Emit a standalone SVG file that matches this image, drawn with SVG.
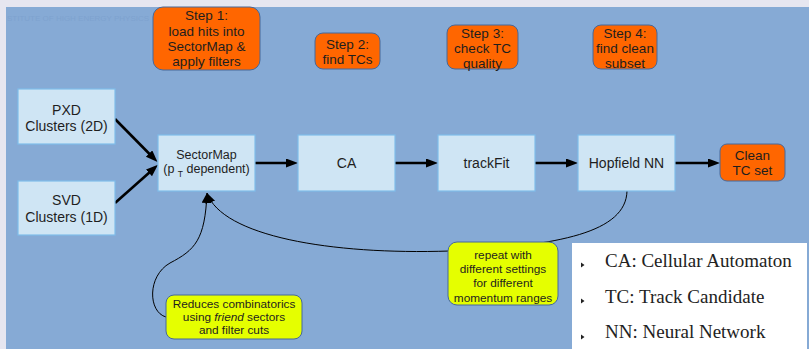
<svg xmlns="http://www.w3.org/2000/svg" width="809" height="349" viewBox="0 0 809 349">
<defs>
<style>
.bg{fill:#86aad5}
.node rect{fill:#cfe5f4;stroke:#7fbdea;stroke-width:1.2}
.step rect{fill:#ff6600;stroke:#46689a;stroke-width:1}
.note rect{fill:#e5ff00;stroke:#46689a;stroke-width:1}
text{font-family:"Liberation Sans",Arial,sans-serif;fill:#1e1e1e;text-anchor:middle}
.t14{font-size:14px}
.t135{font-size:13.5px}
.t12{font-size:12.5px}
.t11{font-size:11.8px}
.legend text{font-family:"Liberation Serif","Times New Roman",serif;font-size:19px;text-anchor:start;fill:#222}
.thick{stroke:#000;stroke-width:2.6;fill:none}
.thin{stroke:#000;stroke-width:1;fill:none}
</style>
<marker id="ah" markerUnits="userSpaceOnUse" markerWidth="13" markerHeight="10" refX="2" refY="4.5" orient="auto">
<path d="M0,0 L12,4.5 L0,9 z" fill="#000"/>
</marker>
<marker id="ahs" markerUnits="userSpaceOnUse" markerWidth="11" markerHeight="11" refX="10" refY="5" orient="auto">
<path d="M0,0 L10,5 L0,10 z" fill="#000"/>
</marker>
</defs>
<rect x="0" y="0" width="809" height="349" fill="#e6e6f0"/>
<rect class="bg" x="6" y="7" width="803" height="342"/>
<text x="7" y="21" style="font-size:8px;text-anchor:start;fill:#7ea2cf">STITUTE OF HIGH ENERGY PHYSICS</text>

<g id="connectors">
<line class="thick" x1="115" y1="119" x2="150.5" y2="155" marker-end="url(#ah)"/>
<line class="thick" x1="115" y1="203" x2="150.5" y2="171.5" marker-end="url(#ah)"/>
<line class="thick" x1="255" y1="163" x2="288" y2="163" marker-end="url(#ah)"/>
<line class="thick" x1="395" y1="163" x2="428" y2="163" marker-end="url(#ah)"/>
<line class="thick" x1="535" y1="163" x2="568" y2="163" marker-end="url(#ah)"/>
<line class="thick" x1="675" y1="163" x2="710" y2="163" marker-end="url(#ah)"/>
<path class="thin" d="M627,191 C626,232 560,246 450,251 C330,255 222,236 207,193" marker-end="url(#ahs)"/>
<path class="thin" d="M166,317 C148,312 147,276 170,263 C195,250 205,240 207,193" marker-end="url(#ahs)"/>
</g>

<g id="step1" class="step">
<rect x="153" y="7" width="107" height="63" rx="10"/>
<text class="t135" x="206.5" y="20">Step 1:</text>
<text class="t135" x="206.5" y="35.5">load hits into</text>
<text class="t135" x="206.5" y="51">SectorMap &amp;</text>
<text class="t135" x="206.5" y="66">apply filters</text>
</g>
<g id="step2" class="step">
<rect x="315" y="33" width="65" height="36" rx="8"/>
<text class="t135" x="347.5" y="49">Step 2:</text>
<text class="t135" x="347.5" y="64">find TCs</text>
</g>
<g id="step3" class="step">
<rect x="447" y="25" width="71" height="44" rx="8"/>
<text class="t135" x="482.5" y="38">Step 3:</text>
<text class="t135" x="482.5" y="52.5">check TC</text>
<text class="t135" x="482.5" y="67.5">quality</text>
</g>
<g id="step4" class="step">
<rect x="593" y="25" width="64" height="44" rx="8"/>
<text class="t135" x="625" y="38">Step 4:</text>
<text class="t135" x="625" y="52.5">find clean</text>
<text class="t135" x="625" y="67.5">subset</text>
</g>

<g id="pxd" class="node">
<rect x="18" y="89" width="97" height="55"/>
<text class="t14" x="66.5" y="115">PXD</text>
<text class="t14" x="66.5" y="131">Clusters (2D)</text>
</g>
<g id="svd" class="node">
<rect x="18" y="181" width="97" height="54"/>
<text class="t14" x="66.5" y="205">SVD</text>
<text class="t14" x="66.5" y="222">Clusters (1D)</text>
</g>
<g id="sectormap" class="node">
<rect x="158" y="135" width="97" height="56"/>
<text class="t12" x="206.5" y="158.5">SectorMap</text>
<text class="t12" x="206.5" y="172.5">(p <tspan font-size="8.5" dy="4">T</tspan><tspan dy="-4"> dependent)</tspan></text>
</g>
<g id="ca" class="node">
<rect x="298" y="135" width="97" height="56"/>
<text class="t14" x="346.5" y="168">CA</text>
</g>
<g id="trackfit" class="node">
<rect x="438" y="135" width="97" height="56"/>
<text class="t14" x="486.5" y="168">trackFit</text>
</g>
<g id="hopfield" class="node">
<rect x="578" y="135" width="97" height="56"/>
<text class="t14" x="626.5" y="168">Hopfield NN</text>
</g>
<g id="clean" class="step">
<rect x="720" y="144" width="65" height="37" rx="7"/>
<text class="t135" x="752.5" y="160">Clean</text>
<text class="t135" x="752.5" y="175">TC set</text>
</g>

<g id="note-reduces" class="note">
<rect x="166" y="295" width="136" height="44" rx="8"/>
<text class="t11" x="234" y="308">Reduces combinatorics</text>
<text class="t11" x="234" y="321">using <tspan font-style="italic">friend</tspan> sectors</text>
<text class="t11" x="234" y="334">and filter cuts</text>
</g>
<g id="note-repeat" class="note">
<rect x="448" y="242" width="110" height="63" rx="9"/>
<text class="t11" x="503" y="259">repeat with</text>
<text class="t11" x="503" y="273">different settings</text>
<text class="t11" x="503" y="287">for different</text>
<text class="t11" x="503" y="302">momentum ranges</text>
</g>

<g id="legend" class="legend">
<rect x="572" y="243" width="235" height="106" fill="#ffffff"/>
<polygon points="581,262.5 584.5,265 581,267.5" fill="#222"/>
<polygon points="581,298.5 584.5,301 581,303.5" fill="#222"/>
<polygon points="581,334.5 584.5,337 581,339.5" fill="#222"/>
<text x="605" y="267">CA: Cellular Automaton</text>
<text x="605" y="303">TC: Track Candidate</text>
<text x="605" y="338">NN: Neural Network</text>
</g>
</svg>
